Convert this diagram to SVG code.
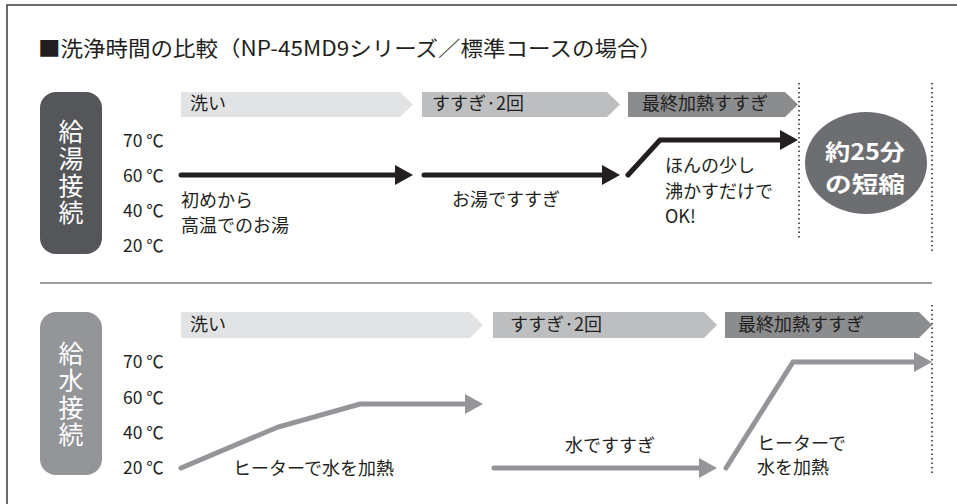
<svg xmlns="http://www.w3.org/2000/svg" width="957" height="504" viewBox="0 0 957 504">
<defs>
<style>
text{font-family:"Noto Sans CJK JP","Noto Sans",sans-serif;fill:#231f20;}
.t{font-size:18px;}
.temp{font-size:17.5px;}
.lbl{font-size:25px;fill:#fff;writing-mode:vertical-rl;letter-spacing:2px;}
.big{font-size:22px;font-weight:bold;fill:#fff;text-anchor:middle;}
.blk{fill:none;stroke:#231f20;stroke-width:5;stroke-linecap:round;stroke-linejoin:miter;}
.gry{fill:none;stroke:#939598;stroke-width:5;stroke-linecap:round;stroke-linejoin:miter;}
.dot{fill:none;stroke:#231f20;stroke-width:1.5;stroke-dasharray:1.5 3;}
.p1{fill:#e2e3e4;}
.p2{fill:#bcbec0;}
.p3{fill:#8a8c8e;}
</style>
<marker id="ab" viewBox="0 0 18 20" markerWidth="18" markerHeight="20" refX="2" refY="10" orient="auto" markerUnits="userSpaceOnUse"><path d="M0,0 L18,10 L0,20 Z" fill="#231f20"/></marker>
<marker id="ag" viewBox="0 0 18 20" markerWidth="18" markerHeight="20" refX="2" refY="10" orient="auto" markerUnits="userSpaceOnUse"><path d="M0,0 L18,10 L0,20 Z" fill="#939598"/></marker>
</defs>
<rect x="0" y="0" width="957" height="504" fill="#fff"/>
<path d="M7,520 L7,5 L970,5" fill="none" stroke="#3a3a3a" stroke-width="1.5"/>
<text x="38" y="56" style="font-size:21px" textLength="624" lengthAdjust="spacingAndGlyphs">■洗浄時間の比較（NP-45MD9シリーズ／標準コースの場合）</text>
<line x1="40" y1="283" x2="932" y2="283" stroke="#3a3a3a" stroke-width="1"/>

<g id="label-hot">
<rect x="40" y="92" width="62" height="162" rx="16" fill="#55565a"/>
<text class="lbl" x="71" y="119">給湯接続</text>
</g>
<g id="label-cold">
<rect x="40" y="312" width="62" height="163" rx="16" fill="#949599"/>
<text class="lbl" x="71" y="341">給水接続</text>
</g>

<g id="temps-hot">
<text class="temp" x="123" y="147">70 ℃</text>
<text class="temp" x="123" y="182">60 ℃</text>
<text class="temp" x="123" y="217">40 ℃</text>
<text class="temp" x="123" y="252">20 ℃</text>
</g>
<g id="temps-cold">
<text class="temp" x="123" y="368">70 ℃</text>
<text class="temp" x="123" y="404">60 ℃</text>
<text class="temp" x="123" y="439">40 ℃</text>
<text class="temp" x="123" y="474">20 ℃</text>
</g>

<g id="phase-hot-wash"><polygon class="p1" points="181,92 400,92 413,104.5 400,117 181,117"/><text class="t" x="190" y="110">洗い</text></g>
<g id="phase-hot-rinse"><polygon class="p2" points="422,92 607,92 620,104.5 607,117 422,117"/><text class="t" x="432" y="110">すすぎ·2回</text></g>
<g id="phase-hot-final"><polygon class="p3" points="628,92 785,92 798,104.5 785,117 628,117"/><text class="t" x="642" y="110">最終加熱すすぎ</text></g>

<g id="phase-cold-wash"><polygon class="p1" points="181,312 470,312 483,325 470,338 181,338"/><text class="t" x="190" y="331">洗い</text></g>
<g id="phase-cold-rinse"><polygon class="p2" points="493,312 704,312 717,325 704,338 493,338"/><text class="t" x="510" y="331">すすぎ·2回</text></g>
<g id="phase-cold-final"><polygon class="p3" points="725,312 919,312 932,325 919,338 725,338"/><text class="t" x="738" y="331">最終加熱すすぎ</text></g>

<g id="dividers">
<line class="dot" x1="799" y1="83" x2="799" y2="240"/>
<line class="dot" x1="932" y1="83" x2="932" y2="253"/>
<line class="dot" x1="932" y1="305" x2="932" y2="475"/>
</g>

<g id="result">
<ellipse cx="866" cy="163" rx="61" ry="51" fill="#6d6e71"/>
<text class="big" x="865" y="160" textLength="80" lengthAdjust="spacingAndGlyphs">約25分</text>
<text class="big" x="865" y="192" textLength="80" lengthAdjust="spacingAndGlyphs">の短縮</text>
</g>

<g id="connectors">
<path class="blk" d="M181,175 L397,175" marker-end="url(#ab)"/>
<path class="blk" d="M424,175 L604,175" marker-end="url(#ab)"/>
<path class="blk" d="M628,175 L660,140 L782,140" marker-end="url(#ab)"/>
<path class="gry" d="M181,468 L278,427 L360,404 L467,404" marker-end="url(#ag)"/>
<path class="gry" d="M494,468 L701,468" marker-end="url(#ag)"/>
<path class="gry" d="M726,468 L793,362 L916,362" marker-end="url(#ag)"/>
</g>

<g id="notes">
<text class="t" x="181" y="207">初めから</text>
<text class="t" x="181" y="232">高温でのお湯</text>
<text class="t" x="452" y="206">お湯ですすぎ</text>
<text class="t" x="665" y="172">ほんの少し</text>
<text class="t" x="665" y="198">沸かすだけで</text>
<text class="t" x="665" y="223">OK!</text>
<text class="t" x="233" y="475">ヒーターで水を加熱</text>
<text class="t" x="565" y="452">水ですすぎ</text>
<text class="t" x="757" y="450">ヒーターで</text>
<text class="t" x="757" y="474">水を加熱</text>
</g>
</svg>
